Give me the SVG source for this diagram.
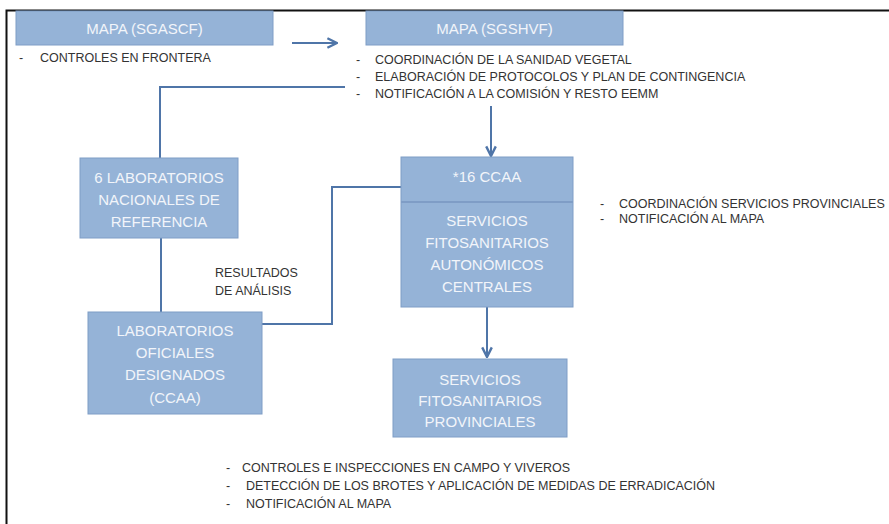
<svg xmlns="http://www.w3.org/2000/svg" width="889" height="524" viewBox="0 0 889 524">
<defs>
<style>
.box{fill:#95b3d7;stroke:#7f9dc6;stroke-width:1}
.bt{font-family:"Liberation Sans",Arial,sans-serif;font-size:15px;fill:#f2f5fa;text-anchor:middle}
.lt{font-family:"Liberation Sans",Arial,sans-serif;font-size:12.5px;fill:#333}
.con{fill:none;stroke:#4f75a8;stroke-width:2}
.frame{stroke:#111;stroke-width:2;fill:none}
</style>
<marker id="arr" viewBox="0 0 10 10" refX="9" refY="5" markerWidth="6" markerHeight="6" orient="auto" markerUnits="strokeWidth">
<path d="M1,1 L9,5 L1,9" fill="none" stroke="#4f75a8" stroke-width="2"/>
</marker>
</defs>
<rect width="889" height="524" fill="#fff"/>
<path class="frame" d="M6.5,524 V10.5 H889"/>

<g id="connectors">
<line class="con" x1="292" y1="43" x2="337" y2="43" marker-end="url(#arr)"/>
<polyline class="con" points="345,87 160,87 160,158"/>
<line class="con" x1="491" y1="106" x2="491" y2="156" marker-end="url(#arr)"/>
<line class="con" x1="161" y1="238" x2="161" y2="312"/>
<polyline class="con" points="262,324 332,324 332,187 401,187"/>
<line class="con" x1="487" y1="307" x2="487" y2="357" marker-end="url(#arr)"/>
</g>

<g id="node-sgascf">
<rect class="box" x="16" y="11" width="257" height="34"/>
<text class="bt" x="144.5" y="34">MAPA (SGASCF)</text>
</g>
<g id="node-sgshvf">
<rect class="box" x="366" y="11" width="257" height="34"/>
<text class="bt" x="494.5" y="34">MAPA (SGSHVF)</text>
</g>
<g id="node-lab-nac">
<rect class="box" x="80" y="158" width="158" height="80"/>
<text class="bt" x="159" y="183">6 LABORATORIOS</text>
<text class="bt" x="159" y="205">NACIONALES DE</text>
<text class="bt" x="159" y="227">REFERENCIA</text>
</g>
<g id="node-lab-of">
<rect class="box" x="88" y="312" width="174" height="102"/>
<text class="bt" x="175" y="336">LABORATORIOS</text>
<text class="bt" x="175" y="358">OFICIALES</text>
<text class="bt" x="175" y="380">DESIGNADOS</text>
<text class="bt" x="175" y="403">(CCAA)</text>
</g>
<g id="node-ccaa">
<rect class="box" x="401" y="157" width="172" height="150"/>
<line x1="401" y1="202" x2="573" y2="202" stroke="#7f9dc6" stroke-width="2"/>
<text class="bt" x="487" y="182">*16 CCAA</text>
<text class="bt" x="487" y="226">SERVICIOS</text>
<text class="bt" x="487" y="248">FITOSANITARIOS</text>
<text class="bt" x="487" y="270">AUTONÓMICOS</text>
<text class="bt" x="487" y="292">CENTRALES</text>
</g>
<g id="node-prov">
<rect class="box" x="393" y="359" width="174" height="78"/>
<text class="bt" x="480" y="385">SERVICIOS</text>
<text class="bt" x="480" y="406">FITOSANITARIOS</text>
<text class="bt" x="480" y="427">PROVINCIALES</text>
</g>

<g id="labels">
<text class="lt" x="19" y="62">-</text>
<text class="lt" x="40" y="62">CONTROLES EN FRONTERA</text>
<text class="lt" x="356" y="64">-</text>
<text class="lt" x="375" y="64">COORDINACIÓN DE LA SANIDAD VEGETAL</text>
<text class="lt" x="356" y="81">-</text>
<text class="lt" x="375" y="81">ELABORACIÓN DE PROTOCOLOS Y PLAN DE CONTINGENCIA</text>
<text class="lt" x="356" y="98">-</text>
<text class="lt" x="375" y="98">NOTIFICACIÓN A LA COMISIÓN Y RESTO EEMM</text>
<text class="lt" x="215" y="277">RESULTADOS</text>
<text class="lt" x="215" y="295">DE ANÁLISIS</text>
<text class="lt" x="600" y="208">-</text>
<text class="lt" x="619" y="208">COORDINACIÓN SERVICIOS PROVINCIALES</text>
<text class="lt" x="600" y="223">-</text>
<text class="lt" x="619" y="223">NOTIFICACIÓN AL MAPA</text>
<text class="lt" x="226" y="472">-</text>
<text class="lt" x="242" y="472">CONTROLES E INSPECCIONES EN CAMPO Y VIVEROS</text>
<text class="lt" x="226" y="490">-</text>
<text class="lt" x="246" y="490">DETECCIÓN DE LOS BROTES Y APLICACIÓN DE MEDIDAS DE ERRADICACIÓN</text>
<text class="lt" x="226" y="508">-</text>
<text class="lt" x="246" y="508">NOTIFICACIÓN AL MAPA</text>
</g>
</svg>
